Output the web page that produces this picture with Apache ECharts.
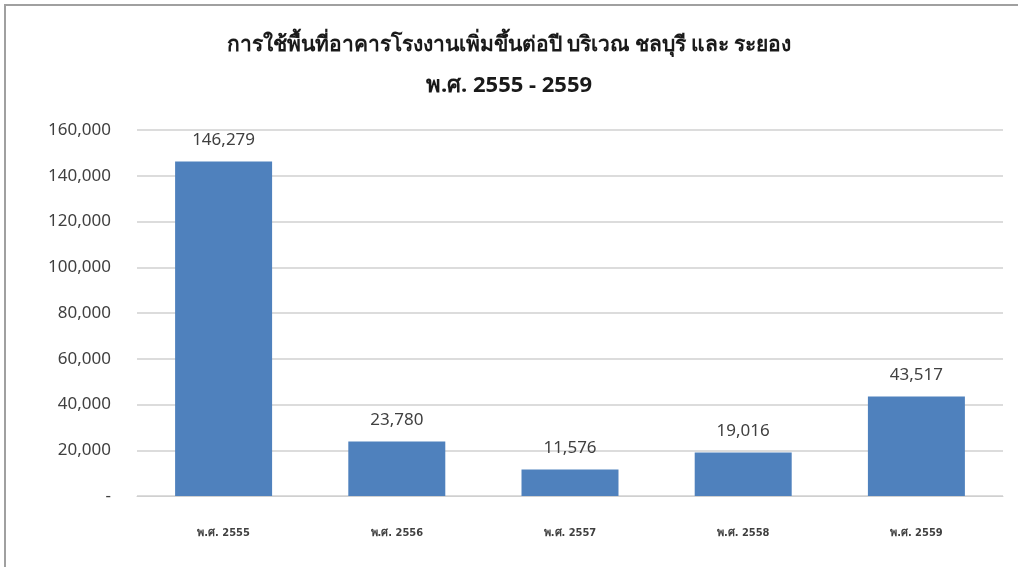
<!DOCTYPE html>
<html>
<head>
<meta charset="utf-8">
<script src="https://cdn.jsdelivr.net/npm/echarts@6/dist/echarts.min.js"></script>
<style>
  html, body { margin: 0; padding: 0; background: #fff; }
  #chart { width: 1018px; height: 567px; }
</style>
</head>
<body>
<div id="chart"></div>
<script>
const categories = ['พ.ศ. 2555', 'พ.ศ. 2556', 'พ.ศ. 2557', 'พ.ศ. 2558', 'พ.ศ. 2559'];
const areaValues = [146279, 23780, 11576, 19016, 43517];
const titleLine1 = 'การใช้พื้นที่อาคารโรงงานเพิ่มขึ้นต่อปี บริเวณ ชลบุรี และ ระยอง';
const titleLine2 = 'พ.ศ. 2555 - 2559';

const fmt = v => v === 0 ? '-' : v.toLocaleString('en-US');

const chart = echarts.init(document.getElementById('chart'));
chart.setOption({
  animation: false,
  textStyle: { fontFamily: '"Noto Sans", "Open Sans", sans-serif' },
  graphic: [
    { type: 'polyline', shape: { points: [[5, 567], [5, 5], [1018, 5]] },
      style: { stroke: '#a0a0a0', lineWidth: 2, fill: null } }
  ],
  title: [
    { text: titleLine1, left: 'center', top: 30,
      textStyle: { fontSize: 21, fontWeight: 'bold', color: '#1a1a1a', fontFamily: '"Noto Sans", sans-serif' } },
    { text: titleLine2, left: 'center', top: 70,
      textStyle: { fontSize: 22, fontWeight: 'bold', color: '#1a1a1a', fontFamily: '"Noto Sans", sans-serif' } }
  ],
  grid: { left: 137, right: 15, top: 130, bottom: 71 },
  xAxis: {
    type: 'category',
    data: categories,
    axisLine: { lineStyle: { color: '#d0d0d0' } },
    axisTick: { show: false },
    axisLabel: { margin: 32, fontSize: 11, fontWeight: 'bold', color: '#404040', fontFamily: '"Liberation Sans Narrow", "DejaVu Sans Condensed", sans-serif' }
  },
  yAxis: {
    type: 'value',
    min: 0, max: 160000, interval: 20000,
    axisLine: { show: false },
    axisTick: { show: false },
    splitLine: { lineStyle: { color: '#d0d0d0', width: 1.5 } },
    axisLabel: { formatter: fmt, fontSize: 17, color: '#404040', margin: 26 }
  },
  series: [{
    type: 'bar',
    data: areaValues,
    barWidth: '56%',
    itemStyle: { color: '#4f81bd' },
    label: { show: true, position: 'top', distance: 13, fontSize: 17, color: '#404040', formatter: p => fmt(p.value) }
  }]
});
</script>
</body>
</html>
